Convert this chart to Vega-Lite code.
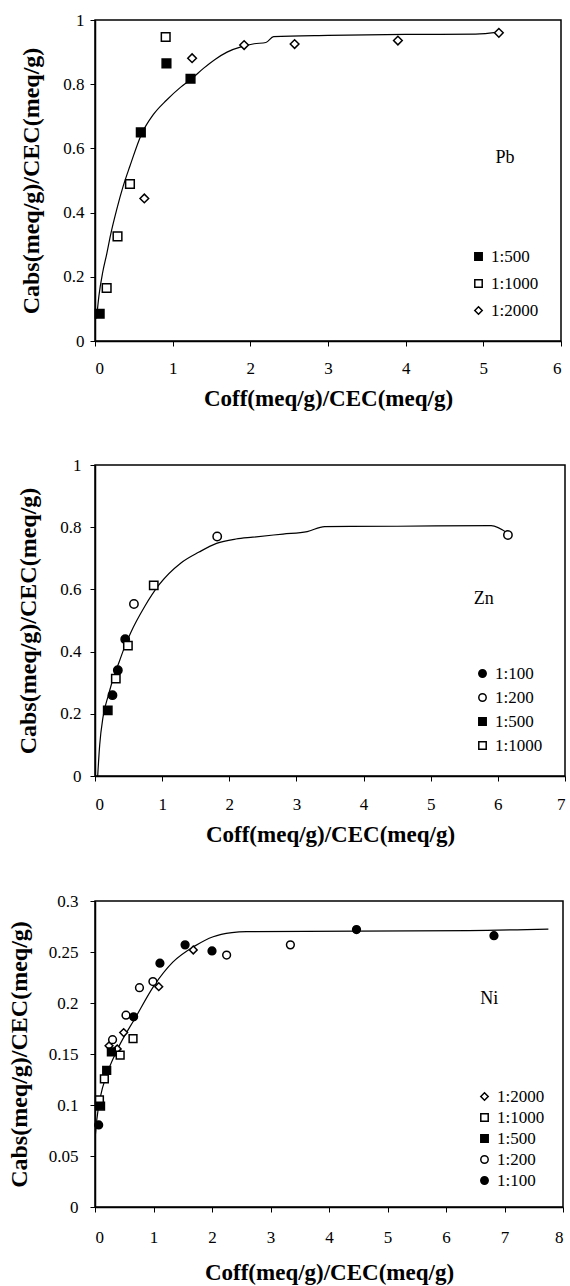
{
  "$schema": "https://vega.github.io/schema/vega-lite/v6.json",
  "background": "white",
  "padding": {"left": 6, "top": 10, "right": 2, "bottom": 0},
  "spacing": 44,
  "align": "none",
  "config": {
    "font": "Liberation Serif",
    "view": {"stroke": "black", "strokeWidth": 1.5},
    "axis": {
      "grid": false, "domainColor": "black", "domainWidth": 1.5, "tickColor": "black", "tickSize": 5,
      "labelColor": "black", "labelFont": "Liberation Serif", "labelFontSize": 17,
      "titleColor": "black", "titleFont": "Liberation Serif", "titleFontSize": 23, "titleFontWeight": "bold"
    },
    "legend": {
      "orient": "bottom-right", "title": null, "labelFont": "Liberation Serif", "labelFontSize": 17,
      "labelColor": "black", "symbolStrokeColor": "black", "symbolStrokeWidth": 1.5, "symbolSize": 55,
      "symbolOpacity": 1
    },
    "text": {"font": "Liberation Serif"}
  },
  "resolve": {
    "scale": {"x": "independent", "y": "independent", "shape": "independent", "fill": "independent"},
    "legend": {"shape": "independent", "fill": "independent"}
  },
  "datasets": {
    "pb_pts": [
      {"x": 0.06, "y": 0.085, "series": "1:500"},
      {"x": 0.59, "y": 0.65, "series": "1:500"},
      {"x": 0.92, "y": 0.865, "series": "1:500"},
      {"x": 1.23, "y": 0.817, "series": "1:500"},
      {"x": 0.15, "y": 0.165, "series": "1:1000"},
      {"x": 0.29, "y": 0.326, "series": "1:1000"},
      {"x": 0.45, "y": 0.489, "series": "1:1000"},
      {"x": 0.91, "y": 0.947, "series": "1:1000"},
      {"x": 0.635, "y": 0.444, "series": "1:2000"},
      {"x": 1.25, "y": 0.881, "series": "1:2000"},
      {"x": 1.92, "y": 0.922, "series": "1:2000"},
      {"x": 2.57, "y": 0.925, "series": "1:2000"},
      {"x": 3.9, "y": 0.936, "series": "1:2000"},
      {"x": 5.2, "y": 0.96, "series": "1:2000"}
    ],
    "pb_line": [
      {"x": 0.02, "y": 0.07}, {"x": 0.05, "y": 0.14}, {"x": 0.1, "y": 0.215}, {"x": 0.15, "y": 0.27},
      {"x": 0.2, "y": 0.33}, {"x": 0.28, "y": 0.41}, {"x": 0.36, "y": 0.48}, {"x": 0.45, "y": 0.545},
      {"x": 0.6, "y": 0.645}, {"x": 0.75, "y": 0.705}, {"x": 0.92, "y": 0.75}, {"x": 1.1, "y": 0.79},
      {"x": 1.25, "y": 0.818}, {"x": 1.4, "y": 0.85}, {"x": 1.55, "y": 0.878}, {"x": 1.7, "y": 0.9},
      {"x": 1.9, "y": 0.918}, {"x": 2.05, "y": 0.926}, {"x": 2.2, "y": 0.93}, {"x": 2.3, "y": 0.948},
      {"x": 3.0, "y": 0.952}, {"x": 4.0, "y": 0.955}, {"x": 4.9, "y": 0.956}, {"x": 5.2, "y": 0.962}
    ],
    "pb_lab": [{"x": 5.28, "y": 0.57, "label": "Pb"}],
    "zn_pts": [
      {"x": 0.26, "y": 0.26, "series": "1:100"},
      {"x": 0.34, "y": 0.34, "series": "1:100"},
      {"x": 0.45, "y": 0.44, "series": "1:100"},
      {"x": 0.58, "y": 0.553, "series": "1:200"},
      {"x": 1.82, "y": 0.77, "series": "1:200"},
      {"x": 6.15, "y": 0.775, "series": "1:200"},
      {"x": 0.19, "y": 0.211, "series": "1:500"},
      {"x": 0.31, "y": 0.313, "series": "1:1000"},
      {"x": 0.49, "y": 0.419, "series": "1:1000"},
      {"x": 0.875, "y": 0.613, "series": "1:1000"}
    ],
    "zn_line": [
      {"x": 0.04, "y": 0.0}, {"x": 0.07, "y": 0.1}, {"x": 0.12, "y": 0.19}, {"x": 0.2, "y": 0.26},
      {"x": 0.28, "y": 0.32}, {"x": 0.365, "y": 0.37}, {"x": 0.45, "y": 0.42}, {"x": 0.53, "y": 0.46},
      {"x": 0.74, "y": 0.545}, {"x": 0.955, "y": 0.615}, {"x": 1.28, "y": 0.685}, {"x": 1.55, "y": 0.72},
      {"x": 1.81, "y": 0.748}, {"x": 2.1, "y": 0.762}, {"x": 2.35, "y": 0.768}, {"x": 2.8, "y": 0.778},
      {"x": 3.16, "y": 0.786}, {"x": 3.42, "y": 0.802}, {"x": 4.5, "y": 0.803}, {"x": 5.9, "y": 0.805},
      {"x": 6.15, "y": 0.78}
    ],
    "zn_lab": [{"x": 5.79, "y": 0.569, "label": "Zn"}],
    "ni_pts": [
      {"x": 0.24, "y": 0.158, "series": "1:2000"},
      {"x": 0.38, "y": 0.155, "series": "1:2000"},
      {"x": 0.49, "y": 0.171, "series": "1:2000"},
      {"x": 1.09, "y": 0.216, "series": "1:2000"},
      {"x": 1.68, "y": 0.252, "series": "1:2000"},
      {"x": 0.076, "y": 0.105, "series": "1:1000"},
      {"x": 0.16, "y": 0.1255, "series": "1:1000"},
      {"x": 0.43, "y": 0.149, "series": "1:1000"},
      {"x": 0.65, "y": 0.165, "series": "1:1000"},
      {"x": 0.095, "y": 0.099, "series": "1:500"},
      {"x": 0.2, "y": 0.134, "series": "1:500"},
      {"x": 0.28, "y": 0.152, "series": "1:500"},
      {"x": 0.3, "y": 0.164, "series": "1:200"},
      {"x": 0.53, "y": 0.188, "series": "1:200"},
      {"x": 0.76, "y": 0.215, "series": "1:200"},
      {"x": 0.99, "y": 0.221, "series": "1:200"},
      {"x": 2.25, "y": 0.247, "series": "1:200"},
      {"x": 3.34, "y": 0.257, "series": "1:200"},
      {"x": 0.063, "y": 0.0804, "series": "1:100"},
      {"x": 0.66, "y": 0.1865, "series": "1:100"},
      {"x": 1.11, "y": 0.239, "series": "1:100"},
      {"x": 1.54, "y": 0.257, "series": "1:100"},
      {"x": 2.0, "y": 0.251, "series": "1:100"},
      {"x": 4.47, "y": 0.272, "series": "1:100"},
      {"x": 6.82, "y": 0.266, "series": "1:100"}
    ],
    "ni_line": [
      {"x": -0.06, "y": 0.005}, {"x": -0.02, "y": 0.05}, {"x": 0.03, "y": 0.085}, {"x": 0.1, "y": 0.11},
      {"x": 0.19, "y": 0.128}, {"x": 0.38, "y": 0.154}, {"x": 0.7, "y": 0.1865}, {"x": 1.01, "y": 0.217},
      {"x": 1.33, "y": 0.24}, {"x": 1.71, "y": 0.256}, {"x": 2.02, "y": 0.265}, {"x": 2.34, "y": 0.269},
      {"x": 2.59, "y": 0.27}, {"x": 6.39, "y": 0.271}, {"x": 7.75, "y": 0.2725}
    ],
    "ni_lab": [{"x": 6.74, "y": 0.204, "label": "Ni"}]
  },
  "vconcat": [
    {
      "width": 466, "height": 321,
      "layer": [
        {
          "data": {"name": "pb_line"},
          "mark": {"type": "line", "color": "black", "strokeWidth": 1.2, "interpolate": "monotone", "clip": true},
          "encoding": {
            "x": {"field": "x", "type": "quantitative", "scale": {"domain": [0, 6], "nice": false},
                  "axis": {"values": [0, 1, 2, 3, 4, 5, 6], "format": "~g", "labelFont": "Liberation Serif", "titleFont": "Liberation Serif", "title": "Coff(meq/g)/CEC(meq/g)", "labelPadding": 14, "titlePadding": 11}},
            "y": {"field": "y", "type": "quantitative", "scale": {"domain": [0, 1], "nice": false},
                  "axis": {"values": [0, 0.2, 0.4, 0.6, 0.8, 1], "format": "~g", "labelFont": "Liberation Serif", "titleFont": "Liberation Serif", "titleFontSize": 24, "title": "Cabs(meq/g)/CEC(meq/g)", "labelPadding": 6, "titlePadding": 19}}
          }
        },
        {
          "data": {"name": "pb_pts"},
          "mark": {"type": "point", "filled": true, "stroke": "black", "strokeWidth": 1.5, "size": 75, "opacity": 1},
          "encoding": {
            "x": {"field": "x", "type": "quantitative"},
            "y": {"field": "y", "type": "quantitative"},
            "shape": {"field": "series", "type": "nominal", "scale": {"domain": ["1:500", "1:1000", "1:2000"], "range": ["square", "square", "diamond"]},
                      "legend": {"offset": 22, "rowPadding": 9, "labelFont": "Liberation Serif", "encode": {"symbols": {"update": {"stroke": {"value": "black"}, "strokeWidth": {"value": 1.5}}}}}},
            "fill": {"field": "series", "type": "nominal", "scale": {"domain": ["1:500", "1:1000", "1:2000"], "range": ["black", "white", "white"]},
                     "legend": {"offset": 22, "rowPadding": 9, "labelFont": "Liberation Serif", "encode": {"symbols": {"update": {"stroke": {"value": "black"}, "strokeWidth": {"value": 1.5}}}}}}
          }
        },
        {
          "data": {"name": "pb_lab"},
          "mark": {"type": "text", "font": "Liberation Serif", "fontSize": 18, "color": "black"},
          "encoding": {
            "x": {"field": "x", "type": "quantitative"},
            "y": {"field": "y", "type": "quantitative"},
            "text": {"field": "label"}
          }
        }
      ]
    },
    {
      "width": 470, "height": 311,
      "layer": [
        {
          "data": {"name": "zn_line"},
          "mark": {"type": "line", "color": "black", "strokeWidth": 1.2, "interpolate": "monotone", "clip": true},
          "encoding": {
            "x": {"field": "x", "type": "quantitative", "scale": {"domain": [0, 7], "nice": false},
                  "axis": {"values": [0, 1, 2, 3, 4, 5, 6, 7], "format": "~g", "labelFont": "Liberation Serif", "titleFont": "Liberation Serif", "title": "Coff(meq/g)/CEC(meq/g)", "labelPadding": 15, "titlePadding": 11}},
            "y": {"field": "y", "type": "quantitative", "scale": {"domain": [0, 1], "nice": false},
                  "axis": {"values": [0, 0.2, 0.4, 0.6, 0.8, 1], "format": "~g", "labelFont": "Liberation Serif", "titleFont": "Liberation Serif", "titleFontSize": 24, "title": "Cabs(meq/g)/CEC(meq/g)", "labelPadding": 9, "titlePadding": 19}}
          }
        },
        {
          "data": {"name": "zn_pts"},
          "mark": {"type": "point", "filled": true, "stroke": "black", "strokeWidth": 1.5, "size": 70, "opacity": 1},
          "encoding": {
            "x": {"field": "x", "type": "quantitative"},
            "y": {"field": "y", "type": "quantitative"},
            "shape": {"field": "series", "type": "nominal", "scale": {"domain": ["1:100", "1:200", "1:500", "1:1000"], "range": ["circle", "circle", "square", "square"]},
                      "legend": {"offset": 22, "rowPadding": 6, "labelFont": "Liberation Serif", "encode": {"symbols": {"update": {"stroke": {"value": "black"}, "strokeWidth": {"value": 1.5}}}}}},
            "fill": {"field": "series", "type": "nominal", "scale": {"domain": ["1:100", "1:200", "1:500", "1:1000"], "range": ["black", "white", "black", "white"]},
                     "legend": {"offset": 22, "rowPadding": 6, "labelFont": "Liberation Serif", "encode": {"symbols": {"update": {"stroke": {"value": "black"}, "strokeWidth": {"value": 1.5}}}}}}
          }
        },
        {
          "data": {"name": "zn_lab"},
          "mark": {"type": "text", "font": "Liberation Serif", "fontSize": 18, "color": "black"},
          "encoding": {
            "x": {"field": "x", "type": "quantitative"},
            "y": {"field": "y", "type": "quantitative"},
            "text": {"field": "label"}
          }
        }
      ]
    },
    {
      "width": 468, "height": 306,
      "layer": [
        {
          "data": {"name": "ni_line"},
          "mark": {"type": "line", "color": "black", "strokeWidth": 1.2, "interpolate": "monotone", "clip": true},
          "encoding": {
            "x": {"field": "x", "type": "quantitative", "scale": {"domain": [0, 8], "nice": false},
                  "axis": {"values": [0, 1, 2, 3, 4, 5, 6, 7, 8], "format": "~g", "labelFont": "Liberation Serif", "titleFont": "Liberation Serif", "title": "Coff(meq/g)/CEC(meq/g)", "labelPadding": 17, "titlePadding": 16}},
            "y": {"field": "y", "type": "quantitative", "scale": {"domain": [0, 0.3], "nice": false},
                  "axis": {"values": [0, 0.05, 0.1, 0.15, 0.2, 0.25, 0.3], "format": "~g", "labelFont": "Liberation Serif", "titleFont": "Liberation Serif", "titleFontSize": 24, "title": "Cabs(meq/g)/CEC(meq/g)", "labelPadding": 12, "titlePadding": 17}}
          }
        },
        {
          "data": {"name": "ni_pts"},
          "mark": {"type": "point", "filled": true, "stroke": "black", "strokeWidth": 1.5, "size": 60, "opacity": 1},
          "encoding": {
            "x": {"field": "x", "type": "quantitative"},
            "y": {"field": "y", "type": "quantitative"},
            "shape": {"field": "series", "type": "nominal", "scale": {"domain": ["1:2000", "1:1000", "1:500", "1:200", "1:100"], "range": ["diamond", "square", "square", "circle", "circle"]},
                      "legend": {"offset": 18, "rowPadding": 3, "labelFont": "Liberation Serif", "encode": {"symbols": {"update": {"stroke": {"value": "black"}, "strokeWidth": {"value": 1.5}}}}}},
            "fill": {"field": "series", "type": "nominal", "scale": {"domain": ["1:2000", "1:1000", "1:500", "1:200", "1:100"], "range": ["white", "white", "black", "white", "black"]},
                     "legend": {"offset": 18, "rowPadding": 3, "labelFont": "Liberation Serif", "encode": {"symbols": {"update": {"stroke": {"value": "black"}, "strokeWidth": {"value": 1.5}}}}}}
          }
        },
        {
          "data": {"name": "ni_lab"},
          "mark": {"type": "text", "font": "Liberation Serif", "fontSize": 18, "color": "black"},
          "encoding": {
            "x": {"field": "x", "type": "quantitative"},
            "y": {"field": "y", "type": "quantitative"},
            "text": {"field": "label"}
          }
        }
      ]
    }
  ]
}
